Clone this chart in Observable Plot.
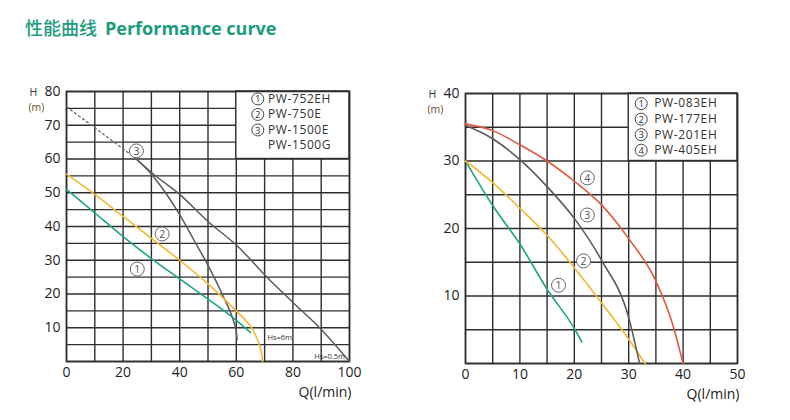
<!DOCTYPE html>
<html><head><meta charset="utf-8">
<script src="https://cdn.jsdelivr.net/npm/d3@7"></script>
<script src="https://cdn.jsdelivr.net/npm/@observablehq/plot@0.6"></script>
<style>
body{margin:0;width:790px;height:420px;background:#fff;position:relative;overflow:hidden;font-family:"Open Sans","Noto Sans",sans-serif;}
#title{position:absolute;left:25px;top:14px;font-size:18px;color:#1a9c7e;white-space:nowrap;}
#title .cn{font-family:"Noto Sans CJK SC",sans-serif;font-weight:500;}
#title .en{font-family:"Open Sans",sans-serif;font-weight:700;margin-left:8px;}
#left{position:absolute;left:0;top:60px;}
#right{position:absolute;left:400px;top:60px;}
.leg text{letter-spacing:0.6px;}
</style></head>
<body>
<div id="title"><span class="cn">性能曲线</span><span class="en">Performance curve</span></div>
<div id="left"></div>
<div id="right"></div>
<script>
// ---- Left chart data (Q l/min, H m)
const L1_q = [0, 10, 20, 30, 40, 50, 60, 65];
const L1_h = [51, 44, 37, 30.5, 24.5, 18.5, 12.2, 8.6];
const L2_q = [0, 10, 20, 30, 40, 50, 60, 65, 67.5, 68.8, 69.3];
const L2_h = [55.5, 49.5, 43, 36.5, 30, 23, 15, 10.5, 6.5, 3, 0];
const L3dot_q = [0, 24];
const L3dot_h = [75.5, 60.5];
const L3a_q = [24, 30, 35, 40, 45, 50, 55, 59, 60, 60.3];
const L3a_h = [60.5, 55.5, 50, 43.5, 36, 28.5, 20, 12, 9, 6.5];
const L3b_q = [24, 30, 40, 50, 60, 72, 80, 90, 100];
const L3b_h = [60.5, 56, 49.5, 41.5, 34.5, 24, 17.5, 9.5, 0];
const L_legendNum = ["1", "2", "3", ""];
const L_legend = ["PW-752EH", "PW-750E", "PW-1500E", "PW-1500G"];
const L_xticks = [0, 20, 40, 60, 80, 100];
const L_yticks = [10, 20, 30, 40, 50, 60, 70, 80];

// ---- Right chart data
const R1_q = [0, 5, 10, 15, 20, 21.4];
const R1_h = [30, 23.4, 17.7, 11, 5.2, 3.2];
const R2_q = [0, 5, 10, 15, 20, 25, 30, 33];
const R2_h = [30, 26.8, 23, 19, 14.2, 9, 3.6, 0];
const R3_q = [0, 5, 10, 15, 20, 25, 30, 32];
const R3_h = [35.3, 33.3, 30.2, 26.2, 21.5, 15.3, 6.8, 0];
const R4_q = [0, 5, 10, 15, 20, 25, 30, 35, 38, 40];
const R4_h = [35.5, 34.5, 32.4, 30, 27, 23.5, 18.5, 12.2, 6, 0];
const R_legendNum = ["1", "2", "3", "4"];
const R_legend = ["PW-083EH", "PW-177EH", "PW-201EH", "PW-405EH"];
const R_xticks = [0, 10, 20, 30, 40, 50];
const R_yticks = [10, 20, 30, 40];

const TEAL = "#1ba48a", YEL = "#f4b731", GRAY = "#5a5a5a", RED = "#e2583d", GRID = "#2e2e2e";
const pts = (q, h) => q.map((x, i) => ({q: x, h: h[i]}));

function makeChart(o) {
  const marks = [];
  marks.push(Plot.ruleX(d3.range(0, o.xmax + 0.001, o.xstep), {stroke: GRID, strokeWidth: 1.4}));
  marks.push(Plot.ruleY(d3.range(0, o.ymax + 0.001, 5), {stroke: GRID, strokeWidth: 1.4}));
  marks.push(Plot.rect([o.box], {x1: "x1", x2: "x2", y1: "y1", y2: "y2", fill: "white", stroke: GRID, strokeWidth: 1.4}));
  marks.push(Plot.frame({stroke: GRID, strokeWidth: 1.6}));
  for (const s of o.series) {
    marks.push(Plot.line(pts(s.q, s.h), {x: "q", y: "h", stroke: s.color, strokeWidth: s.w || 1.6,
      strokeDasharray: s.dash, curve: s.curve || "monotone-x"}));
  }
  for (const t of o.tags) {
    marks.push(Plot.dot([t], {x: "x", y: "y", r: 7, fill: "white", stroke: "#666", strokeWidth: 1}));
    marks.push(Plot.text([t], {x: "x", y: "y", text: "n", fontSize: 10.5, fill: "#555", dy: 0.5}));
  }
  // legend: circled numbers + model names
  const leg = o.legend.map((t, i) => ({t, n: o.legendNum[i], y: o.legendY[i]}));
  const legN = leg.filter(d => d.n);
  marks.push(Plot.dot(legN, {x: o.legendCX, y: "y", r: 6, fill: "white", stroke: "#444", strokeWidth: 1}));
  marks.push(Plot.text(legN, {x: o.legendCX, y: "y", text: "n", fontSize: 9.5, fill: "#333", dy: 0.5}));
  marks.push(Plot.text(leg, {x: o.legendTX, y: "y", text: "t", textAnchor: "start", fontSize: 12, fill: "#333", className: "leg"}));
  for (const n of o.notes || []) {
    marks.push(Plot.text([n], {x: "x", y: "y", text: "t", textAnchor: "start", fontSize: 7.5, fill: "#333"}));
  }
  marks.push(Plot.axisX({ticks: o.xticks, tickSize: 0, tickPadding: 6, label: null, fontSize: 14, fill: "#222"}));
  marks.push(Plot.axisY({ticks: o.yticks, tickSize: 0, tickPadding: 6, label: null, fontSize: 14, fill: "#222"}));
  marks.push(Plot.text(["H"], {frameAnchor: "top-left", dx: o.hdx, dy: -3, fontSize: 10.5, fill: "#333"}));
  marks.push(Plot.text(["(m)"], {frameAnchor: "top-left", dx: o.hdx - 1, dy: 12, fontSize: 10.5, fill: "#6b4a1c"}));
  marks.push(Plot.text(["Q(l/min)"], {frameAnchor: "bottom-right", dx: 2, dy: 35, textAnchor: "end", fontSize: 14, fill: "#222"}));
  return Plot.plot({
    width: 380, height: 350,
    marginLeft: o.ml, marginRight: o.mr, marginTop: o.mt, marginBottom: o.mb,
    style: {fontFamily: "Open Sans, sans-serif", fontSize: "14px", color: "#222", overflow: "visible"},
    x: {domain: [0, o.xmax]},
    y: {domain: [0, o.ymax]},
    marks
  });
}

document.getElementById("left").append(makeChart({
  xmax: 100, ymax: 80, xstep: 10, ml: 66, mr: 31, mt: 31, mb: 49, hdx: -37,
  box: {x1: 60, x2: 100, y1: 60, y2: 80},
  series: [
    {q: L3dot_q, h: L3dot_h, color: "#666", w: 1.3, dash: "2,3", curve: "linear"},
    {q: L3a_q, h: L3a_h, color: GRAY, w: 1.5},
    {q: L3b_q, h: L3b_h, color: GRAY, w: 1.5},
    {q: L1_q, h: L1_h, color: TEAL},
    {q: L2_q, h: L2_h, color: YEL, curve: "catmull-rom"}
  ],
  tags: [{x: 24.7, y: 62.4, n: "3"}, {x: 33.8, y: 37.8, n: "2"}, {x: 25, y: 27.4, n: "1"}],
  legend: L_legend, legendNum: L_legendNum,
  legendCX: 67.6, legendTX: 71.2,
  legendY: [77.8, 73.2, 68.6, 64.0],
  notes: [{x: 71, y: 7, t: "Hs=6m"}, {x: 87.5, y: 1.6, t: "Hs=0.5m"}],
  xticks: L_xticks, yticks: L_yticks
}));

document.getElementById("right").append(makeChart({
  xmax: 50, ymax: 40, xstep: 5, ml: 65, mr: 43, mt: 33, mb: 47, hdx: -37,
  box: {x1: 30, x2: 50, y1: 30, y2: 40},
  series: [
    {q: R1_q, h: R1_h, color: TEAL},
    {q: R2_q, h: R2_h, color: YEL},
    {q: R3_q, h: R3_h, color: GRAY},
    {q: R4_q, h: R4_h, color: RED}
  ],
  tags: [{x: 22.4, y: 27.5, n: "4"}, {x: 22.4, y: 22, n: "3"}, {x: 21.7, y: 15.2, n: "2"}, {x: 17.1, y: 11.6, n: "1"}],
  legend: R_legend, legendNum: R_legendNum,
  legendCX: 32.3, legendTX: 34.7,
  legendY: [38.5, 36.2, 33.9, 31.6],
  xticks: R_xticks, yticks: R_yticks
}));
</script>
</body></html>
